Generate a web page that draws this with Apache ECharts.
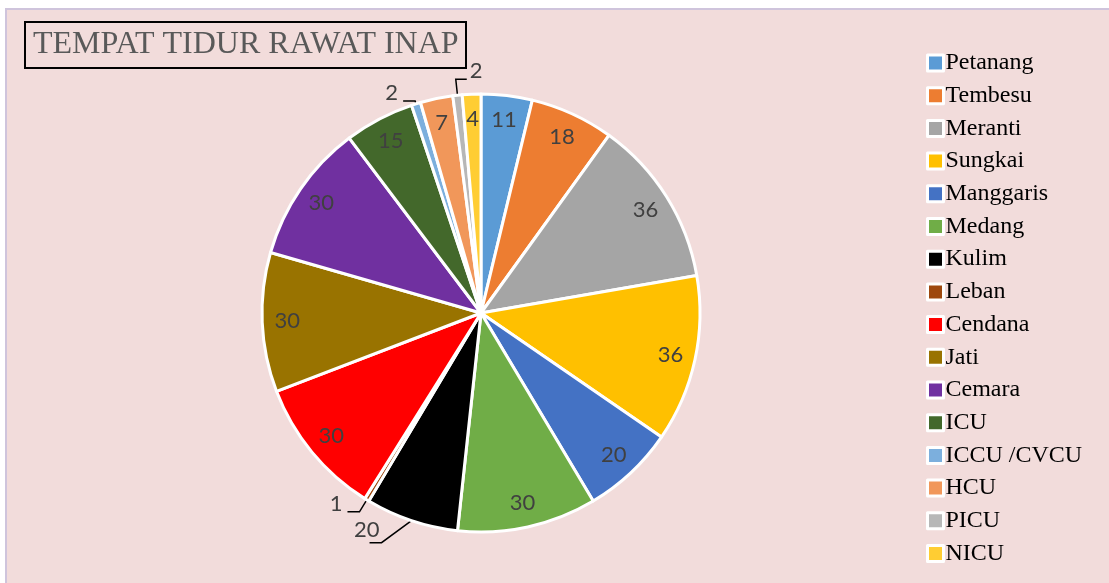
<!DOCTYPE html>
<html>
<head>
<meta charset="utf-8">
<script src="https://cdn.jsdelivr.net/npm/echarts@6/dist/echarts.min.js"></script>
<style>
  html, body { margin: 0; padding: 0; background: #fff; }
  #chart { width: 1109px; height: 583px; }
</style>
</head>
<body>
<div id="chart"></div>
<script>
var titleText = 'TEMPAT TIDUR RAWAT INAP';
var wards = ['Petanang', 'Tembesu', 'Meranti', 'Sungkai', 'Manggaris', 'Medang', 'Kulim', 'Leban',
             'Cendana', 'Jati', 'Cemara', 'ICU', 'ICCU /CVCU', 'HCU', 'PICU', 'NICU'];
var beds = [11, 18, 36, 36, 20, 30, 20, 1, 30, 30, 30, 15, 2, 7, 2, 4];
var colors = ['#5B9BD5', '#ED7D31', '#A5A5A5', '#FFC000', '#4472C4', '#70AD47', '#000000', '#9E480E',
              '#FF0000', '#997300', '#7030A0', '#43682B', '#7CAFDD', '#F1975A', '#B7B7B7', '#FFCD33'];
// labels drawn outside with a leader line, as in the sheet
var outsideLabels = ['Kulim', 'Leban', 'ICCU /CVCU', 'PICU'];

// [radial length, horizontal length]
var leaderLen = { 'Kulim': [24, 12], 'Leban': [14, 12], 'ICCU /CVCU': [3, 12], 'PICU': [16, 11] };

var mainData = [];
var labelData = [];
for (var i = 0; i < wards.length; i++) {
    var outside = outsideLabels.indexOf(wards[i]) >= 0;
    var item = {
        name: wards[i],
        value: beds[i],
        itemStyle: { color: colors[i] },
        label: { show: outside },
        labelLine: { show: outside }
    };
    if (outside) {
        item.labelLine.length = leaderLen[wards[i]][0];
        item.labelLine.length2 = leaderLen[wards[i]][1];
    }
    mainData.push(item);
    labelData.push({
        name: wards[i],
        value: beds[i],
        label: { show: !outside }
    });
}

// Excel hangs the outside labels just above the end of the leader line,
// and PICU's line turns to the right
function outsideLayout(params) {
    if (params.seriesIndex !== 0 || !params.labelLinePoints) return {};
    var pts = params.labelLinePoints;
    var name = wards[params.dataIndex];
    if (name === 'PICU') {
        var p1 = pts[1];
        var end = [p1[0] + (p1[0] - pts[2][0]), p1[1]];
        return {
            x: end[0] + 3,
            y: p1[1] - 8,
            align: 'left',
            verticalAlign: 'middle',
            labelLinePoints: [pts[0], p1, end]
        };
    }
    if (name === 'Kulim') {
        // slanted leader, not radial
        var elbow = [pts[0][0] - 30, pts[0][1] + 22];
        var tail = [elbow[0] - 12, elbow[1]];
        return {
            x: tail[0] + 10,
            y: tail[1] - 13,
            align: 'right',
            verticalAlign: 'middle',
            labelLinePoints: [pts[0], elbow, tail]
        };
    }
    return { dy: -8, labelLinePoints: pts };
}

var chart = echarts.init(document.getElementById('chart'));
chart.setOption({
    animation: false,
    graphic: [{
        type: 'rect',
        z: -10,
        silent: true,
        shape: { x: 6, y: 9, width: 1130, height: 600 },
        style: { fill: '#F2DCDB', stroke: '#CFC4DC', lineWidth: 2 }
    }],
    title: {
        text: titleText,
        left: 25,
        top: 22,
        padding: [7, 8, 7, 8],
        borderColor: '#000',
        borderWidth: 2,
        textStyle: {
            fontFamily: 'Liberation Serif',
            fontSize: 32,
            fontWeight: 'normal',
            color: '#595959'
        }
    },
    legend: {
        orient: 'vertical',
        left: 926,
        top: 51,
        padding: 0,
        itemWidth: 16,
        itemHeight: 16,
        itemGap: 8.7,
        icon: 'rect',
        itemStyle: { borderColor: '#fff', borderWidth: 3 },
        textStyle: {
            fontFamily: 'Liberation Serif',
            fontSize: 24,
            lineHeight: 24,
            color: '#000',
            padding: [0, 0, 0, -3]
        },
        data: wards
    },
    series: [{
        name: 'Tempat Tidur',
        type: 'pie',
        center: [481, 313],
        radius: 219,
        startAngle: 90,
        clockwise: true,
        avoidLabelOverlap: false,
        itemStyle: { borderColor: '#fff', borderWidth: 3 },
        label: {
            position: 'outside',
            fontFamily: 'Lato',
            fontSize: 22,
            color: '#404040',
            formatter: '{c}'
        },
        labelLine: {
            smooth: false,
            lineStyle: { color: '#000', width: 1.5 }
        },
        labelLayout: outsideLayout,
        emphasis: { disabled: true },
        data: mainData
    }, {
        name: 'labels',
        type: 'pie',
        center: [481, 313],
        radius: [163, 219],
        startAngle: 90,
        clockwise: true,
        silent: true,
        itemStyle: { color: 'transparent', borderWidth: 0 },
        label: {
            position: 'inside',
            fontFamily: 'Lato',
            fontSize: 22,
            color: '#404040',
            formatter: '{c}'
        },
        labelLine: { show: false },
        emphasis: { disabled: true },
        data: labelData
    }]
});
</script>
</body>
</html>
